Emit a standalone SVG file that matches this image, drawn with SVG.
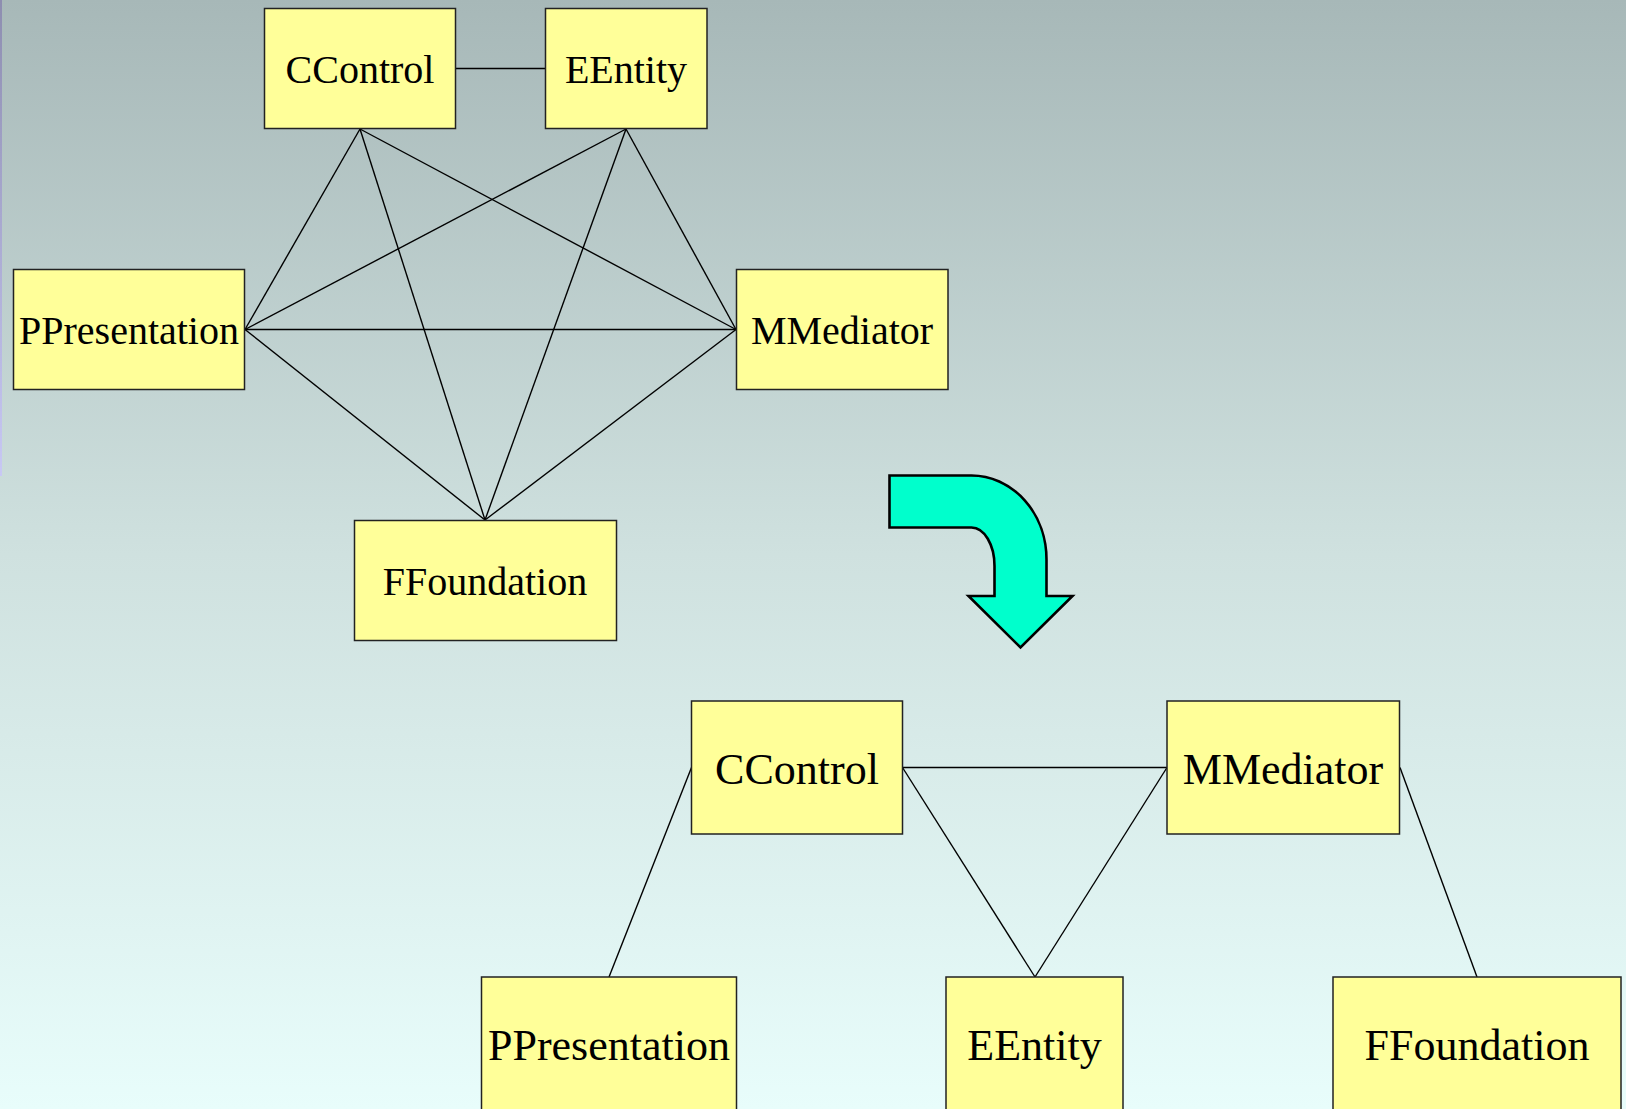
<svg xmlns="http://www.w3.org/2000/svg" width="1626" height="1109" viewBox="0 0 1626 1109">
  <defs>
    <linearGradient id="bg" x1="0" y1="0" x2="0" y2="1">
      <stop offset="0" stop-color="#a7b8b8"/>
      <stop offset="0.5" stop-color="#cfe1df"/>
      <stop offset="1" stop-color="#e8fdfb"/>
    </linearGradient>
    <linearGradient id="edge" x1="0" y1="0" x2="0" y2="1">
      <stop offset="0" stop-color="#8d8db0"/>
      <stop offset="1" stop-color="#c8c8f4"/>
    </linearGradient>
  </defs>
  <style>
    .box rect { fill: #ffff99; stroke: #222222; stroke-width: 1.5; }
    .box text { font-family: "Liberation Serif", "Times New Roman", serif; fill: #000000; text-anchor: middle; }
    .top text { font-size: 40px; }
    .bottom text { font-size: 44px; }
    #connectors line { stroke: #000000; stroke-width: 1.4; }
  </style>

  <!-- background -->
  <rect x="0" y="0" width="1626" height="1109" fill="url(#bg)"/>
  <rect x="0" y="0" width="2" height="476" fill="url(#edge)"/>

  <!-- connectors -->
  <g id="connectors">
    <!-- fully meshed upper layout -->
    <line x1="456" y1="68.5" x2="545" y2="68.5"/>
    <line x1="360" y1="129" x2="245" y2="329.5"/>
    <line x1="360" y1="129" x2="736" y2="329.5"/>
    <line x1="360" y1="129" x2="485" y2="520"/>
    <line x1="626" y1="129" x2="245" y2="329.5"/>
    <line x1="626" y1="129" x2="736" y2="329.5"/>
    <line x1="626" y1="129" x2="485" y2="520"/>
    <line x1="245" y1="329.5" x2="736" y2="329.5"/>
    <line x1="245" y1="329.5" x2="485" y2="520"/>
    <line x1="736" y1="329.5" x2="485" y2="520"/>
    <!-- mediated lower layout -->
    <line x1="691.5" y1="767.5" x2="609" y2="977"/>
    <line x1="902.5" y1="767.5" x2="1167" y2="767.5"/>
    <line x1="902.5" y1="767.5" x2="1035" y2="977"/>
    <line x1="1167" y1="767.5" x2="1035" y2="977"/>
    <line x1="1400" y1="767.5" x2="1477" y2="977"/>
  </g>

  <!-- upper nodes -->
  <g id="ccontrol-top" class="box top">
    <rect x="264.5" y="8.5" width="191" height="120"/>
    <text x="360" y="83">CControl</text>
  </g>
  <g id="eentity-top" class="box top">
    <rect x="545.5" y="8.5" width="161.5" height="120"/>
    <text x="626" y="83">EEntity</text>
  </g>
  <g id="ppresentation-top" class="box top">
    <rect x="13.5" y="269.5" width="231" height="120"/>
    <text x="129" y="344">PPresentation</text>
  </g>
  <g id="mmediator-top" class="box top">
    <rect x="736.5" y="269.5" width="211.5" height="120"/>
    <text x="842" y="344">MMediator</text>
  </g>
  <g id="ffoundation-top" class="box top">
    <rect x="354.5" y="520.5" width="262" height="120"/>
    <text x="485" y="595">FFoundation</text>
  </g>

  <!-- curved transition arrow -->
  <g id="arrow">
    <path d="M889.5 475.5 L971.5 475.5 A75 84 0 0 1 1046.5 560 L1046.5 596 L1072.5 596 L1020.5 647.5 L968.5 596 L994.5 596 L994.5 566 A23 38.5 0 0 0 971.5 527.5 L889.5 527.5 Z"
          fill="#00ffcc" stroke="#000000" stroke-width="2.6" stroke-linejoin="miter"/>
  </g>

  <!-- lower nodes -->
  <g id="ccontrol-bottom" class="box bottom">
    <rect x="691.5" y="701" width="211" height="133"/>
    <text x="797" y="784">CControl</text>
  </g>
  <g id="mmediator-bottom" class="box bottom">
    <rect x="1167" y="701" width="232.5" height="133"/>
    <text x="1283" y="784">MMediator</text>
  </g>
  <g id="ppresentation-bottom" class="box bottom">
    <rect x="481.5" y="977" width="255" height="140"/>
    <text x="609" y="1060">PPresentation</text>
  </g>
  <g id="eentity-bottom" class="box bottom">
    <rect x="946" y="977" width="177" height="140"/>
    <text x="1034.5" y="1060">EEntity</text>
  </g>
  <g id="ffoundation-bottom" class="box bottom">
    <rect x="1333" y="977" width="288" height="140"/>
    <text x="1477" y="1060">FFoundation</text>
  </g>
</svg>
